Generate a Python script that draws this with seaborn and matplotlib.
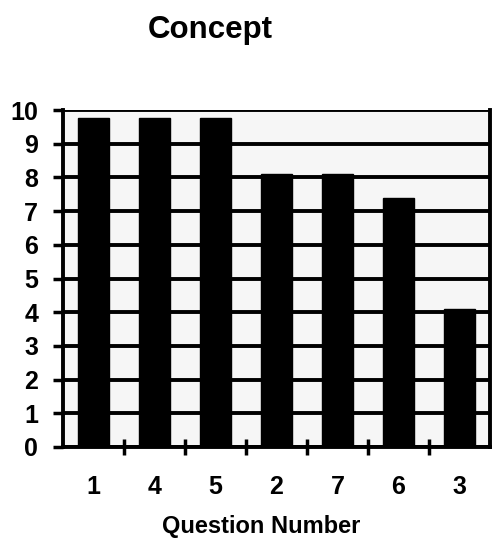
import matplotlib
matplotlib.use("Agg")
import matplotlib.pyplot as plt
import seaborn as sns
import pandas as pd
import numpy as np

questions = ["1", "4", "5", "2", "7", "6", "3"]
scores = [9.75, 9.75, 9.75, 8.1, 8.1, 7.4, 4.1]
y_ticks = list(range(0, 11))

sns.set_theme(style="white")
plt.rcParams['font.family'] = ['Liberation Sans', 'DejaVu Sans']
plt.rcParams['text.color'] = 'black'
plt.rcParams['xtick.color'] = 'black'
plt.rcParams['ytick.color'] = 'black'

df = pd.DataFrame({"Question": questions, "Score": scores})

fig = plt.figure(figsize=(4.93, 5.41), dpi=100)
ax = fig.add_axes([63/493, 1 - 447/541, (490-63)/493, (447-110)/541])
ax.set_facecolor("#f6f6f6")

sns.barplot(data=df, x="Question", y="Score", order=questions, color="black",
            width=0.52, ax=ax, saturation=1, zorder=3)
for p in ax.patches:
    p.set_edgecolor("black")

ax.set_ylim(0, 10)
ax.set_xlim(-0.5, len(questions) - 0.5)
ax.set_yticks(y_ticks)
ax.yaxis.grid(True, color="black", linewidth=2.8, zorder=1)
ax.set_axisbelow(True)

ax.tick_params(axis="y", direction="out", length=7, width=2.5, color="black",
               labelsize=18, pad=11, left=True, labelcolor="black")
for lab in ax.get_yticklabels():
    lab.set_fontweight("bold")

ax.set_xticks(range(len(questions)))
ax.set_xticklabels(questions, fontsize=18, fontweight="bold", color="black")
ax.tick_params(axis="x", which="major", length=0, pad=20)
ax.set_xticks(np.arange(0.5, len(questions) - 0.5, 1), minor=True)
ax.tick_params(axis="x", which="minor", direction="inout", length=12, width=2.5,
               color="black", bottom=True)

for s in ["left", "bottom", "right"]:
    ax.spines[s].set_visible(True)
    ax.spines[s].set_color("black")
    ax.spines[s].set_linewidth(2.8)
ax.spines["top"].set_visible(False)

ax.set_xlabel("")
ax.set_ylabel("")

fig.text(210/493, 1 - 30/541, "Concept", ha="center", va="center",
         fontsize=22.5, fontweight="bold", color="black")
fig.text(261/493, 1 - 526/541, "Question Number", ha="center", va="center",
         fontsize=17, fontweight="bold", color="black")

fig.savefig("out.png", dpi=100, facecolor="white")
